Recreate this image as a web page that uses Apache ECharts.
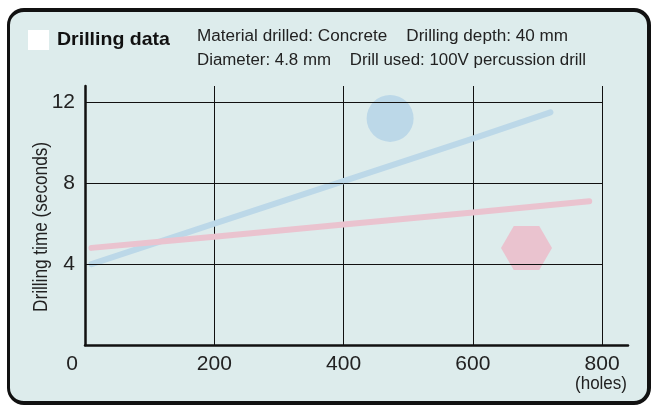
<!DOCTYPE html>
<html><head><meta charset="utf-8">
<script src="https://cdn.jsdelivr.net/npm/echarts@6/dist/echarts.min.js"></script>
<style>
html,body{margin:0;padding:0;background:#fff;}
#frame{position:absolute;left:7px;top:8px;width:637px;height:389px;border:4px solid #111;border-left-width:3px;border-radius:17px;background:#ddecec;}
#chart{position:absolute;left:0;top:0;width:656px;height:406px;}
</style></head>
<body><div id="frame"></div><div id="chart"></div>
<script>
const FONT = "'Liberation Sans', Arial, sans-serif";
const xTicks = [0, 200, 400, 600, 800];
const yTicks = [4, 8, 12];
const blueSeries = [[10, 4.0], [200, 6.0], [400, 8.1], [600, 10.2], [720, 11.5]];
const pinkSeries = [[10, 4.8], [200, 5.35], [400, 5.95], [600, 6.55], [780, 7.1]];
const blueMarker = [[472, 11.2]];
const pinkMarker = [[683, 4.8]];
const titleText = 'Drilling data';
const infoLine1 = 'Material drilled: Concrete    Drilling depth: 40 mm';
const infoLine2 = 'Diameter: 4.8 mm    Drill used: 100V percussion drill';
const yName = 'Drilling time (seconds)';
const xUnit = '(holes)';

// horizontal squeeze so that the regular font imitates the condensed face of the original
const ctx = document.createElement('canvas').getContext('2d');
function fit(text, font, target) { ctx.font = font; return target / ctx.measureText(text).width; }
const fTitle = "bold 19px " + FONT;
const fInfo = "16px " + FONT;
const fName = "20px " + FONT;
const fUnit = "18px " + FONT;

const chart = echarts.init(document.getElementById('chart'), null, {renderer: 'canvas'});
const gridLines = yTicks.map(v => [{coord: [xTicks[0], v]}, {coord: [xTicks[xTicks.length - 1], v]}]);
const option = {
  backgroundColor: 'transparent',
  animation: false,
  textStyle: {fontFamily: FONT},
  grid: {left: 85, top: 86, right: 28, bottom: 61, containLabel: false},
  graphic: [
    {type: 'rect', left: 28, top: 30, shape: {width: 21, height: 20}, style: {fill: '#ffffff'}},
    {type: 'text', x: 57, y: 40, scaleX: fit(titleText, fTitle, 113),
      style: {text: titleText, font: fTitle, fill: '#111', verticalAlign: 'middle'}},
    {type: 'text', x: 197, y: 37, scaleX: fit(infoLine1, fInfo, 371),
      style: {text: infoLine1, font: fInfo, fill: '#222', verticalAlign: 'middle'}},
    {type: 'text', x: 197, y: 61, scaleX: fit(infoLine2, fInfo, 389),
      style: {text: infoLine2, font: fInfo, fill: '#222', verticalAlign: 'middle'}},
    {type: 'text', x: 41, y: 227, rotation: Math.PI / 2, scaleX: fit(yName, fName, 170),
      style: {text: yName, font: fName, fill: '#222', align: 'center', verticalAlign: 'middle'}},
    {type: 'text', x: 601, y: 384, scaleX: fit(xUnit, fUnit, 52),
      style: {text: xUnit, font: fUnit, fill: '#222', align: 'center', verticalAlign: 'middle'}}
  ],
  xAxis: {
    type: 'value', min: 0, max: 840, interval: 200,
    axisLine: {show: true, onZero: false, lineStyle: {color: '#111', width: 2.5}},
    axisTick: {show: false},
    splitLine: {show: true, showMinLine: false, showMaxLine: false, lineStyle: {color: '#111', width: 1}},
    axisLabel: {
      show: true, margin: 9, fontSize: 21, color: '#222', fontFamily: FONT, showMaxLabel: false,
      formatter: v => (xTicks.indexOf(v) < 0 ? '' : (v === 0 ? '{z|0}' : String(v))),
      rich: {z: {fontSize: 21, fontFamily: FONT, color: '#222', padding: [0, 26, 0, 0]}}
    }
  },
  yAxis: {
    type: 'value', min: 0, max: 12.8, interval: 4,
    axisLine: {show: true, lineStyle: {color: '#111', width: 2.5}},
    axisTick: {show: false},
    splitLine: {show: false},
    axisLabel: {
      show: true, margin: 10, fontSize: 21, color: '#222', fontFamily: FONT,
      formatter: v => (yTicks.indexOf(v) < 0 ? '' : String(v))
    }
  },
  series: [
    {
      name: 'grid', type: 'line', data: [], z: 1, silent: true,
      markLine: {silent: true, symbol: ['none', 'none'], label: {show: false},
        lineStyle: {color: '#111', width: 1, type: 'solid'}, data: gridLines, animation: false}
    },
    {name: 'blue', type: 'line', data: blueSeries, showSymbol: false, z: 3,
      lineStyle: {color: '#bcd8e8', width: 6, cap: 'round'}},
    {name: 'pink', type: 'line', data: pinkSeries, showSymbol: false, z: 3,
      lineStyle: {color: '#eac3cf', width: 6, cap: 'round'}},
    {name: 'blueMarker', type: 'scatter', data: blueMarker, symbol: 'circle', symbolSize: 47, z: 4,
      itemStyle: {color: '#bcd8e8', opacity: 1}},
    {name: 'pinkMarker', type: 'scatter', data: pinkMarker, z: 4,
      symbol: 'path://M0,0.866 L0.5,0 L1.5,0 L2,0.866 L1.5,1.732 L0.5,1.732 Z', symbolSize: [51, 44],
      itemStyle: {color: '#eac3cf', opacity: 1}}
  ]
};
chart.setOption(option);
</script>
</body></html>
